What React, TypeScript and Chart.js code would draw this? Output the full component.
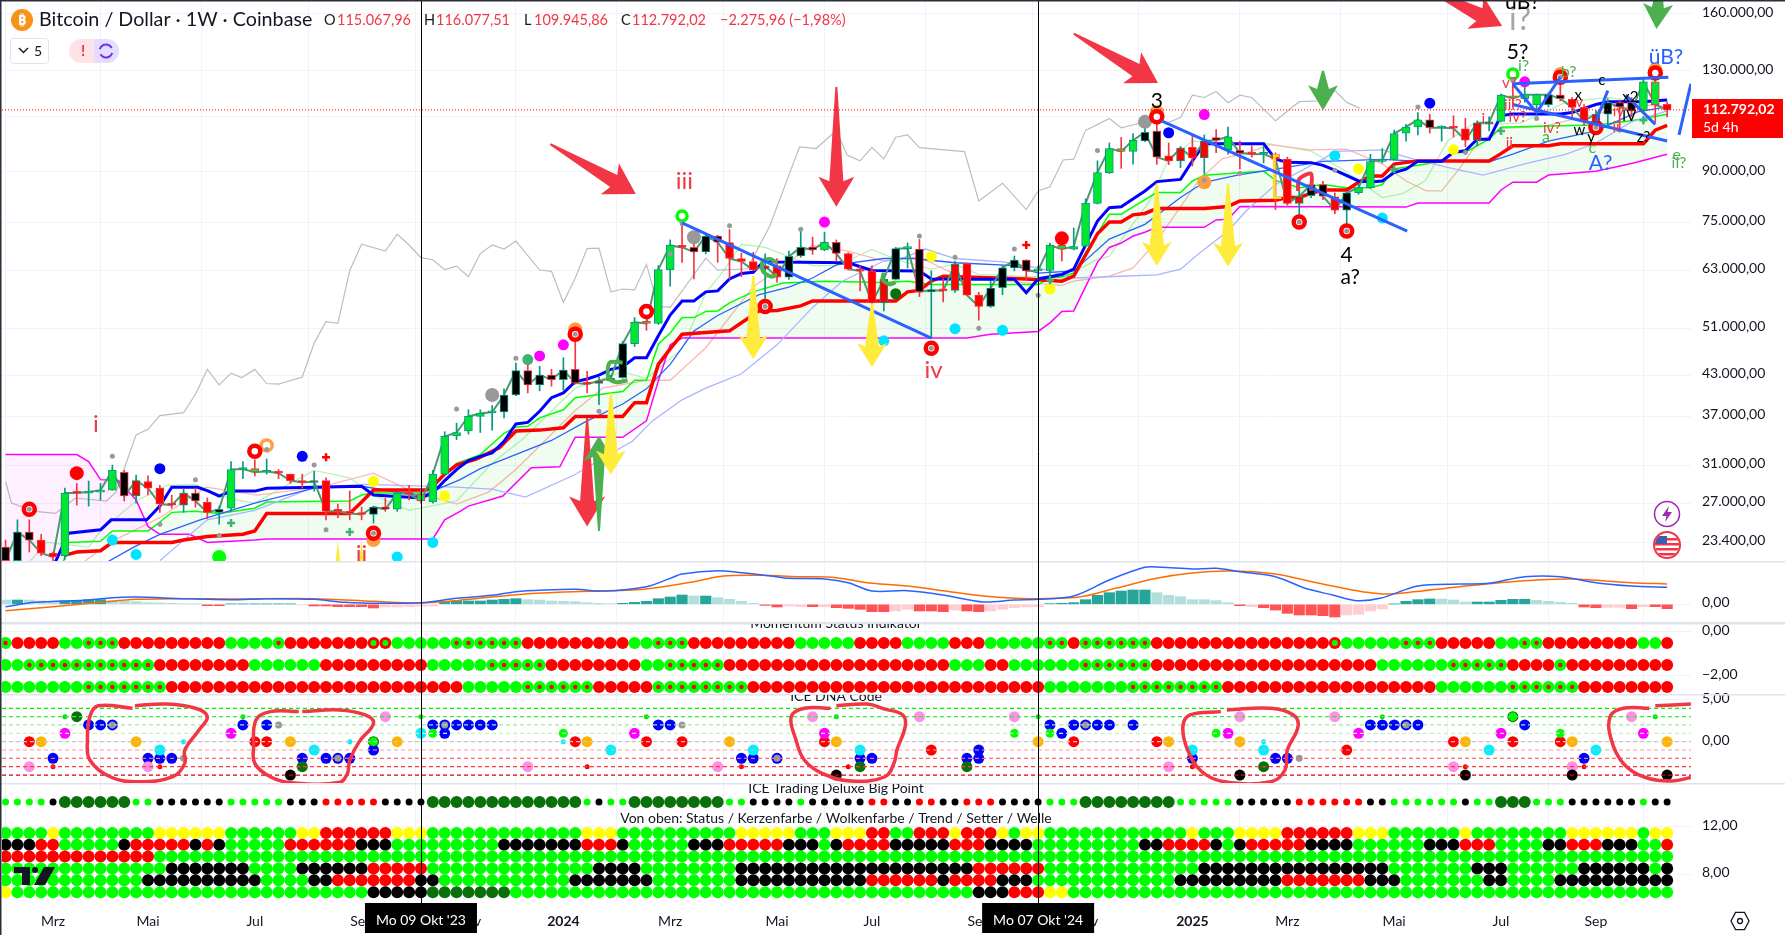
import React, { useEffect, useRef } from "react";
import { Chart, registerables } from "chart.js";
Chart.register(...registerables);

const FONT = "Lato, 'Noto Sans', sans-serif";

// ---------- price data (thousand USD), weekly bars from Mo 06 Feb '23 ----------
const opens = [23.0,21.9,24.3,23.6,22.5,22.3,28.05,28.0,28.1,28.3,30.2,27.7,29.2,28.5,27.0,26.8,28.0,27.1,26.1,26.5,30.5,30.6,30.2,30.3,30.0,29.3,29.1,29.3,26.3,26.2,26.0,25.9,26.6,26.4,28.0,27.9,27.1,30.0,34.5,35.1,37.0,37.5,37.6,40.0,43.7,41.5,43.0,42.3,43.9,41.8,41.7,42.1,42.6,48.2,52.1,51.9,63.1,68.9,68.4,67.3,71.3,69.6,65.7,65.0,63.2,64.0,61.4,66.3,68.5,67.8,69.7,66.9,63.2,62.8,55.9,60.9,68.1,68.0,58.2,58.5,58.5,64.5,57.5,55.2,59.1,63.5,65.3,62.8,62.9,68.9,68.0,68.7,80.3,89.8,98.0,97.0,100.8,104.4,95.4,93.7,98.4,94.7,102.0,97.5,97.4,96.4,96.0,96.0,94.3,80.3,82.6,86.0,82.2,78.3,83.5,85.0,93.5,94.2,103.6,106.0,108.8,105.6,105.8,105.3,101.0,107.2,108.2,118.7,117.5,114.8,115.0,119.0,117.2,113.8,108.5,111.0,115.8,116.0,112.4,124.9,115.068];
const highs = [23.6,25.4,25.4,24.1,22.6,28.5,29.0,29.25,29.0,31.0,30.4,29.9,29.8,28.8,27.8,28.4,28.5,27.5,26.7,31.4,31.4,31.6,31.7,30.5,30.0,30.0,30.3,29.6,26.9,28.2,26.6,26.7,27.5,28.1,28.8,28.4,30.4,35.0,36.1,37.9,37.9,38.5,40.9,44.9,44.7,44.4,43.9,45.8,49.9,43.6,42.7,43.0,48.6,53.0,53.0,64.0,70.3,74.5,69.9,72.0,71.5,73.0,67.0,67.2,66.8,65.7,67.5,73.4,71.0,72.3,70.3,67.1,64.0,64.0,62.0,68.4,69.5,70.4,62.8,61.0,65.1,64.6,58.1,60.5,64.0,66.3,65.4,64.0,69.5,71.0,73.4,81.6,93.7,100.0,102.0,103.5,107.0,108.0,100.0,98.7,103.0,103.0,105.0,106.0,100.7,99.0,98.7,96.5,95.0,84.0,87.0,87.0,83.4,83.6,86.0,96.0,98.0,104.8,107.0,111.7,111.0,106.5,110.4,109.4,108.4,110.0,119.5,125.3,124.5,119.5,119.6,127.0,118.0,115.0,112.5,117.5,116.5,118.0,126.0,133.0,116.078];
const lows = [21.5,21.7,22.6,22.3,21.9,22.0,26.8,26.7,27.3,28.3,27.2,27.0,27.8,26.1,26.5,26.1,26.6,25.5,25.0,26.2,29.5,29.8,30.0,29.5,29.0,28.5,28.2,25.4,25.6,25.4,25.4,25.1,26.2,26.2,27.3,27.0,27.0,29.9,34.0,34.7,34.9,35.2,36.8,39.9,40.3,40.6,41.3,40.7,41.6,40.3,38.6,42.0,42.5,47.7,50.6,51.7,59.4,64.8,61.0,66.8,64.8,61.0,61.5,62.9,56.7,60.3,60.9,66.0,66.7,67.6,65.0,63.0,58.4,53.5,54.3,60.8,63.5,57.2,49.1,56.1,58.1,57.4,52.5,55.0,57.6,62.8,60.9,60.7,60.9,65.1,67.8,68.5,80.1,89.5,91.2,92.6,100.5,92.5,92.4,91.4,92.0,89.3,96.5,96.0,91.0,95.0,93.0,78.5,79.8,76.5,82.0,81.4,77.3,74.0,83.0,84.8,93.0,94.0,100.7,103.0,103.7,100.7,102.2,98.7,99.0,104.5,108.0,114.0,116.0,112.4,114.0,116.5,109.5,106.5,106.5,106.0,104.0,110.0,112.0,108.0,109.946];
const closes = [21.9,24.3,23.6,22.5,22.2,28.0,28.0,28.1,28.3,30.4,27.7,29.3,28.5,26.9,26.8,28.0,27.2,26.1,26.4,30.5,30.55,30.2,30.3,30.1,29.3,29.1,29.2,26.2,26.2,26.0,25.9,26.6,26.4,28.0,27.9,27.2,30.0,34.4,34.9,37.0,37.4,37.6,40.0,43.7,41.5,43.0,42.3,43.8,41.8,41.6,42.1,42.5,48.2,52.1,51.9,63.1,68.9,68.4,67.3,71.3,69.7,65.7,65.0,63.0,64.0,61.4,66.2,68.4,67.8,69.7,66.9,63.2,62.8,55.9,60.9,68.1,68.2,58.2,58.6,58.4,64.4,57.5,55.2,59.0,63.5,65.3,62.8,62.9,68.9,68.0,68.6,80.3,89.8,98.0,97.0,101.0,104.0,95.0,93.7,98.2,94.7,100.7,101.0,102.3,96.4,96.0,96.1,94.3,80.3,82.4,86.0,82.4,78.3,83.4,85.0,93.5,94.0,103.5,106.0,108.8,105.7,105.7,105.5,101.0,107.6,107.7,119.0,117.7,119.2,119.2,119.2,117.5,113.8,108.5,111.0,115.8,114.0,112.4,124.9,115.0,112.792];
const bodyTones = "kkkrrgrggg" + "krrrrrkrkg" + "gggrrrrrrr" + "rkkgrggggg" + "ggkkkkkkkr" + "rrkggggrkk" + "krrrrrkkkg" + "krrrrkgkkr" + "rrrkkkkggg" + "ggggggkkrr" + "rrkgkrgrrr" + "kkrkgggggg" + "kgrrrrgggg" + "kkrrrkkkgg" + "r";

const priceTicks = [160, 130, 110, 90, 75, 63, 51, 43, 37, 31, 27, 23.4];
const lastPrice = 112.792;
const monthTicks = [4, 12, 21, 30, 39, 47, 56, 65, 73, 82, 91, 100, 108, 117, 126, 134];
const monthLabels = ["Mrz", "Mai", "Jul", "Sep", "Nov", "2024", "Mrz", "Mai", "Jul", "Sep", "Nov", "2025", "Mrz", "Mai", "Jul", "Sep"];
const yearTicks = [47, 100];
const dateMarks: [number, string][] = [[35, "Mo 09 Okt '23"], [87, "Mo 07 Okt '24"]];

// ---------- indicator lines: [bar, price] ----------
type P = [number, number];
const thickBlue: P[] = [[4.2,21.8],[5.3,24.2],[8,24.5],[8.9,25.4],[11.9,25.4],[13,26.7],[14,28.6],[16.2,28.6],[17.1,28.2],[18,27.7],[19,28.2],[21,28.2],[22,28.5],[30,28.7],[31,27.8],[35,27.5],[36,28.0],[37,29.3],[38,30.5],[39,31.5],[40,32],[41,32.4],[42,33.8],[43,36],[44,36.2],[45,37.7],[46,39.6],[47,40.3],[48,42],[49,42.4],[50,43],[51,43.9],[52,44.3],[53,45.8],[54,45.8],[55,49.6],[56,53.5],[57,56.3],[58,56.3],[59,58.2],[60,58.4],[61,61],[62,62.2],[63,62.5],[64,65.4],[65,64.9],[71,64.7],[73,62.9],[77,62.8],[78,61],[82,60.9],[85,60.9],[86,58],[87,61],[89,62],[90,63.2],[92,75.3],[93,79],[94,79.3],[96,84],[97,86.9],[99,87.6],[100,93.7],[101,99.7],[106,99.7],[107,94.3],[108,93.2],[110,93.1],[111,92.2],[112,90.6],[114,87.1],[115,86.8],[116,87.1],[117,89.8],[118,90.9],[119,93.6],[121,93.6],[122,96.7],[123,97.2],[124,101.4],[125,101.4],[126,110.5],[127,111.1],[131,111.1],[132,111.7],[134,115],[135,116.2],[138,116.2],[139,116.6],[140,116.9]];
const thickRed: P[] = [[4.9,22.3],[6,22.6],[8,22.7],[9,23.4],[14,23.4],[15,23.6],[17,23.9],[20,24.1],[21,24.4],[22,26],[29,26],[30,27.1],[31,28.3],[35.5,28.3],[36,28.7],[37,30],[38,31],[39.7,31.7],[41.6,33],[43,35.1],[45,35.2],[47,35.5],[48,37],[52,37],[53,38.9],[54,38.9],[55,44.7],[56,47.3],[57,49.9],[61,50.5],[62,52],[63.5,54.3],[65,54.4],[67,55.3],[68,56.3],[75,56.3],[76,58.2],[77,58.5],[78,60.5],[79,61.6],[86,61],[89,60.5],[90,61.6],[92,71.9],[93,75],[94,75],[95,77],[96,77.4],[97,78.8],[101,78.8],[103,79.4],[104,81],[107,81.2],[108,82],[109,82],[110,83.3],[111,84.3],[113,84.3],[114,86.7],[115,88.7],[116,88.7],[117,92.6],[119,93.7],[125,93.7],[126,96.2],[127,99],[130,99],[131,99.7],[138,99.7],[139,104.8],[140,106.6]];
const limeLine: P[] = [[0,19],[4.2,19.5],[5.3,23.4],[8,23.5],[9,24.4],[12,24.4],[13,25.2],[14,26.1],[16,26.2],[18,26],[21,26.5],[22,27.1],[29,27.2],[30,27.8],[31,28],[35,28],[36,28.6],[37,30],[38,31.2],[40,32.2],[42,34.8],[43,35.6],[44,35.7],[45,36.8],[47,37.9],[48,39.6],[51,40.3],[52,40.5],[53,42.2],[54,42.2],[55,48.1],[56,50.1],[57,53],[58,53],[59,54.2],[60,54.3],[61,55.9],[63,58.2],[65.5,60.1],[69,60.5],[74,60.2],[76,60.5],[78,59.8],[87,59.8],[88,61.2],[89,61.5],[90,62.3],[92,72],[93,77.2],[94,77.2],[95,79.3],[97,83.5],[99,83.5],[100,87.1],[101,88.9],[106,90.3],[107,87.3],[109,85],[111,86],[113,85],[115,85],[116,86],[117,91],[121,93.5],[122,96.5],[123,96.7],[125,101.4],[126,105.9],[129,106.3],[134,106.8],[137,108.4],[140,111]];
const thinBlue: P[] = [[8.6,21.8],[10.8,23],[13,24.1],[16.4,25.4],[21,27],[26,28.5],[30,28.7],[35,27.7],[38.3,29.4],[40,30.6],[46,33.9],[49,36.4],[52,38.7],[54,40.9],[56,44.7],[58,50.5],[60,53.4],[63.5,57.6],[66,59.2],[68,61.2],[70,64.2],[74,65.7],[76.5,65.7],[80,64.7],[85,64],[87,62.3],[90,62.8],[93,70.5],[96,74.4],[99,82],[101,86.7],[104,89.1],[106,90.3],[111,93.5],[116,94.2],[118.5,93.7],[121.5,93.7],[125,93.4],[127,96],[130,100.7],[134,104.5],[137.5,112],[140,114]];
const lavender: P[] = [[13,21.9],[17,25.4],[21,26.3],[26,28.6],[30.5,28.9],[38,28.6],[41,28.4],[43.8,27.6],[47.9,29.9],[52.8,33.8],[54.5,36.4],[57,39.3],[59,41],[62,43.2],[65,48],[68,55],[70.5,60.5],[74,65.1],[75.5,65.7],[77.5,68],[80,65.7],[84,64.9],[87,63.5],[90,61.2],[94,61.6],[97,61.9],[99,63.2],[100.5,66.8],[103,72.6],[104.5,78],[107,86],[111,94.3],[112,97],[116,97.5],[118.5,94.5],[121.5,91.5],[124.5,89],[128,92.7],[131.5,96],[134,100],[137,108],[140,112.4]];
const magentaLine: P[] = [[0,32.2],[6,32.2],[7,31.4],[8,29.4],[9.5,29.3],[11,27.3],[12,24.8],[13,24.1],[15.5,24.1],[17,23.4],[21,23.6],[22,23.7],[36,23.7],[37,25.4],[38.3,26.2],[39,26.7],[41.9,27.7],[44.3,30.7],[46.7,30.8],[48,34.3],[52,34.3],[54,36.4],[55,42.1],[56,48],[57,49.2],[81,49.2],[83,49.9],[87,50.4],[88,52],[89,54.2],[90,54.3],[92,64.8],[93,68.4],[94,69.5],[95,71.3],[96,72.3],[97,73.6],[101,73.6],[102,75.6],[103,75.8],[104,79.4],[118,79.2],[119,80.4],[125,80.4],[126,84.3],[127,86.7],[129,86.7],[130,89],[134,90.2],[137,92.8],[140,96]];
const lightGreen: P[] = [[2,21.8],[3.5,23.4],[7,23],[8,24.4],[11,27.2],[13.6,28.8],[15.9,28.9],[19,27.4],[21,27],[24,29],[26,30.4],[29,29.6],[31,27.8],[34,26.3],[38,27.2],[41,31.2],[43.5,34],[48,41],[52,43.5],[54,42.5],[57,47.3],[59,58],[60.5,62.8],[62,69.2],[64,68.4],[68,64],[70,64],[73,67.9],[75,65.5],[78,63.2],[80,64.3],[82,62],[89,61.2],[92,65.5],[93,66.2],[96.4,81],[98,94.4],[100,100.7],[104.8,99.4],[106,100],[110,97.1],[113,90],[116,82],[117.7,83.2],[119.6,87.1],[121.5,100.7],[123.5,106.8],[127.6,107.5],[131.5,116],[135,118],[140,114]];
const lightRed: P[] = [[6.6,21.8],[8.8,23.4],[13,25.6],[16.9,28.6],[21.2,27.8],[26.5,28.6],[31,30.1],[34,28.3],[38,26.9],[40.7,28.1],[43,30.5],[48,37.8],[50.3,41],[54,42.2],[56,42.2],[59,47.5],[63,59.3],[68,68.9],[71,67.5],[74,65.1],[77,66],[80,62],[82,60.9],[89,59.6],[90,60.5],[93,61.6],[95,63.5],[97,70],[100.5,87.1],[102.5,94.4],[105,97.1],[106.5,99.4],[110,97.5],[113,97.8],[116,92.7],[118,87.1],[119.7,84],[121,84],[122.5,91.1],[124,99.9],[126,105.5],[129.5,106.1],[132.3,109.3],[137.5,115],[140,114]];
const grayLine: P[] = [[0,29.2],[0.5,27],[2.5,26.2],[4.2,26],[5.9,27.5],[8.5,27.2],[9.3,28.1],[11,34.6],[12,35.3],[13,37.1],[15,37.5],[16,40.1],[17,43.9],[18,41.5],[19,43.3],[19.9,42.6],[21,43.9],[22,41.7],[23,41.6],[25,42.7],[26,48.3],[27,52.2],[28,51.9],[29,62.9],[30,69.2],[32,67.5],[33,71.8],[34,69],[35,65.9],[36,65.4],[37,63.1],[38,63.9],[39,61.5],[40,66.9],[41,69],[42,68],[43,70],[45,63],[46,62.7],[47,56],[48,61.2],[49,68.1],[50,68.2],[51,58.2],[52,58.8],[53,58.6],[54,64.3],[55,55.2],[56,55],[59,65.8],[60,63],[62.5,63.3],[64.4,74],[66.9,98.6],[68.3,98],[70,104.7],[70.9,95.7],[72,93.7],[73,98.4],[74,94.4],[75,102.1],[76,103],[77,98.3],[80.8,96.9],[82,81],[84,86.4],[86,78.5],[87,84],[88,85.3],[89.1,94],[90,94.3],[91,104.7],[93,109.3],[94,105.7],[96,108],[98,107.8],[99,109.7],[100,119],[101,118],[102,120.6],[103,115.8],[104,119],[105,118],[107,108.4],[109,116.2],[111,116.6],[112,121],[113,115.9],[114.1,113.5]];

// drawn trend lines and hand-drawn hooks
const trendLines: P[][] = [[[57,74.8],[78,49.2]],[[97.4,108.4],[118.1,72.6]],[[127,124],[140.1,127]],[[127,115],[140,100.7]],[[142,124],[141,103]],[[127,124],[129,111.7],[131,127]],[[135,121],[134,108.2]],[[136.5,119],[139,107]]];
const greenHooks: P[][] = [[[52,45],[50.9,45],[50.8,42.5],[51.5,41.9],[52.4,42.2]],[[65,64.7],[64.4,65.6],[63.8,65],[63.8,62.8],[64.5,61.5],[65,62]],[[74,62.4],[73.9,60.8],[74.5,59.8],[75,60.3]]];
const redHook: P[] = [[108.9,84],[109,87.7],[110,89.4],[110,84]];
const yellowHook: P[] = [[107.3,95.5],[106.9,95.5],[106.9,82],[107.5,82]];

// ---------- markers on the price pane ----------
const grayDots: P[] = [[2,26.4],[9,32],[16,29.4],[13,25],[18,24],[22,32.8],[26,31],[27,24.5],[31,24.2],[38,38],[43,45.7],[50,37.7],[56,66.8],[57,74.6],[61,74],[67,73.1],[64,55.2],[48,49.9],[77,71.3],[80,66],[82,51],[85,68],[87,57.5],[92,97.3],[104,89.5],[101,87.3],[112,90.6],[119,114],[123,96.6],[129,109.3],[127,125.5],[131,127],[134,105.9],[78,47.4],[109,75],[113,72.6]];
const bigGray: P[] = [[41,40],[58,71],[96,108]];
const orangeSolid: P[] = [[31,23.6],[48,50.8],[97,112],[101,86.7],[131,128.5],[139,130.5]];
const orangeRings: P[] = [[22,33.3]];
const redRings: P[] = [[2,26.4],[21,32.6],[31,24.2],[48,49.9],[54,54.2],[64,55.2],[78,47.4],[97,110],[109,75],[113,72.6],[131,127],[134,105.8],[139,129]];
const redSolid: P[] = [[6,30.1],[89,70.7]];
const greenRings: P[] = [[57,76.7],[127,128.5]];
const blueDots: P[] = [[13,30.6],[25,32],[98,103.8],[120,115.6]];
const cyanDots: P[] = [[9,23.6],[11,22.4],[33,22.2],[36,23.4],[74,48.7],[80,50.9],[84,50.6],[112,95.5],[116,76.1]];
const yellowDots: P[] = [[31,29.2],[37,27.7],[78,66.2],[88,58.8],[114,91],[122,97.6]];
const magentaDots: P[] = [[45,46.1],[47,48],[69,75],[101,110.9],[128,124.9]];
const seaDots: P[] = [[44,45.5]];
const darkDots: P[] = [[75,57.8]];
const limeDots: P[] = [[18,22.2]];
const redPlus: P[] = [[27,31.9],[86,69]];
const greenPlus: P[] = [[19,25.1],[29,24.3],[88,60.7],[117,90.9],[126,104.5],[138,108.6]];

// large drawn arrows: [barFrom, priceFrom, barTip, priceTip]
type A = [number, number, number, number];
const redArrows: A[] = [[45.9,99.6,53.1,83.1],[70,122.6,70,79.3],[90,148.8,97.1,124.4],[119.2,177.6,126.1,153],[49,36.8,49,24.8]];
const greenArrows: A[] = [[50,24.4,50,34.5],[111,130,111,112.6],[139.4,184,139.1,151.4]];
const yellowArrows: A[] = [[63,61.7,63,45.6],[51,40.3,51,29.95],[73,55.8,73,44.3],[97,86.3,97,64],[103,86.3,103,63.8]];
const yellowSpikes: A[] = [[28,19.5,28,23.55],[30,19.5,30,23.55]];

// wave labels: [bar, price, text]
type L = [number, number, string];
const redLarge: L[] = [[7.6,35.9,"i"],[30,22.4,"ii"],[57.2,87.1,"iii"],[78.2,43.7,"iv"]];
const blackLarge: L[] = [[97,116.5,"3"],[113,66.4,"4"],[113.3,61.4,"a?"],[127.8,167,"üB?"],[127.4,138.9,"5?"]];
const grayHuge: L[] = [[127.6,156.4,"i?"]];
const blueLarge: L[] = [[139.9,136.6,"üB?"],[134.4,92.9,"A?"]];
const greenMid: L[] = [[141,92.9,"ii?"],[140.8,95.8,"e"],[131.7,129.5,"b?"],[129.8,102.4,"a"],[127.9,132.3,"i?"],[133.7,98.4,"c"]];
const redSmall: L[] = [[126.7,124.5,"v?"],[127,114.8,"iii?"],[127.4,110,"iv?"],[126.7,100.1,"ii"],[130.3,105.5,"iv?"],[124.5,109,"i"],[135.9,112.4,"iv"],[135.7,105.8,"ii"],[132.6,115.9,"v"]];
const blackSmall: L[] = [[134.5,125.8,"c"],[132.5,119,"x"],[136.9,118,"x2"],[136.8,110.3,"IV"],[132.6,104.6,"w"],[133.6,102.1,"y"],[138,102,"z?"]];

// ---------- MACD pane ----------
const macdHist = [13,13,13,10,9,10,12,14,14,11,9,8,5,4,3,2,1,-4,-4,1,1,1,1,1,1,-1,-5,-5,-7,-7,-7,-11,-8,-8,-7,-6,-5,8,10,10,10,13,15,17,14,13,10,9,8,5,3,2,3,6,9,17,22,28,25,25,20,15,9,3,-3,-8,-5,-7,-7,-7,-10,-12,-15,-22,-22,-20,-15,-20,-20,-22,-17,-20,-22,-20,-15,-10,-8,-7,2,3,5,14,27,35,40,43,43,35,27,23,14,14,11,5,-4,-7,-10,-17,-27,-32,-32,-34,-38,-32,-30,-20,-14,1,9,14,16,16,13,7,7,7,12,15,15,12,9,6,3,-8,-10,-9,-9,-13,-7,-7,-13];
const macdTones = "u1U1u3U4u8D2U6d1D6d5U7u8U6u1U1u4D2d2D1d1D5d1d1D3d1D2d5U9u7D1d1D7d4U4u3U5u4D2d2D1d1D2";
const macdLine: P[] = [[0,-7],[2.5,6],[7,13],[9,20],[11,22],[15,17],[19,14],[22,17],[26,15],[28.6,6],[31.5,3],[35,5],[38,18],[41,27],[43,38],[45.5,43],[48,45],[50.5,40],[54,53],[56,78],[57,91],[60,101],[62,95],[64.5,85],[66,78],[69,76],[71,65],[73,40],[76,41],[79,28],[82.4,7],[85,13],[87,15],[90,25],[93,73],[96,111],[97.4,111],[100,106],[102,108],[104,98],[107,83],[109.5,48],[111.8,28],[113.8,11],[115.8,18],[119,55],[122.5,61],[125,63],[128,83],[131,83],[134,65],[137,55],[140,51]];
const signalLine: P[] = [[0,-19],[4,-7],[8,6],[11,15],[15,17],[19,16],[26,17],[31,9],[35,4],[38,11],[43,29],[47,37],[51,41],[54,46],[58,68],[60.5,85],[63.5,87],[67,83],[70,80],[73,63],[76,55],[79,41],[82.4,25],[85,18],[87,17],[90.6,23],[93.5,48],[97,78],[99.8,93],[103,100],[107,91],[110.7,63],[114.7,36],[116.7,31],[122.5,53],[128,71],[132,76],[137,65],[140,61]];

// ---------- status dot rows (run-length: colour code + count per bar) ----------
const momentumRow1 = "x1r4g2x3r9g4x1r7y2g5x6r9g2x3r9g5r4g4r3g5x2r1x6r15y1g5x3r5g2x2r8g2r1";
const momentumRow2 = "g2x11r8g6r9g5x5r8g2x5r15r4g3r2g6x6r19g6x5r4x1r9";
const momentumRow3 = "g7x7r25g5x6r5x8r13r12g7x8r18g6x6r8";
const bigPointRow = "g4k1D6g2k6g5k3r5k4D13g1k1g2D8g2k4g1k5r2k1k1r2k2r3k4g3D8g5k5r6k2g6k1g2D3g3k6g1k2";
const statusRows = [
  "g4y1g8y6g6y2r6y3g13y3g10y5g3y3r2g1g1r3y1r3y1g1y2g12y1g3y4r6y3g6y1g8y6g1y2",
  "k3r2g5k1r5k1r1k1g5r6k3g9k7r3k1g5k3r5k3g1k1r4k1k4r3k4g9k2r4k1g1k1r5k4g6k3r3g4k2r3k3g2r1",
  "r13g128",
  "g14k7g4k6r5g14k4g8k14k6r6g13k16g7k3g6k6g1k1",
  "g12k10g4k2r7k2g11k7g7k11r3r3k1r4k3g12k9r7k3g7k2g4k10",
  "y1g30k5D7g33g6k3r3y2g51",
];
const momentumLevels = [-0.5, -1.5, -2.5];
const bigPointLevel = 14.1;
const statusLevels = [11.5, 10.5, 9.5, 8.5, 7.5, 6.5];

// ---------- ICE DNA code dots: [bar, level] ----------
const dnaBlue: P[] = [[4,-2],[7,2],[8,2],[9,2],[12,-2],[13,-2],[14,-2],[20,2],[22,2],[25,-2],[27,-2],[28,-2],[29,-2],[31,-1],[36,2],[37,2],[37,1],[38,2],[39,2],[40,2],[41,2],[55,2],[56,2],[62,-2],[63,-2],[65,-2],[72,-2],[73,-2],[81,-2],[82,-1],[82,-2],[88,2],[89,1],[90,2],[91,2],[92,2],[93,2],[95,2],[100,-2],[107,-2],[108,-2],[115,2],[116,2],[117,2],[118,2],[119,2],[128,2],[133,-2]];
const dnaGrayCore: P[] = [[9,2],[37,2],[28,-2],[65,-2],[91,2],[118,2]];
const dnaRed: P[] = [[2,0],[21,0],[22,0],[48,0],[54,0],[57,0],[69,0],[78,-1],[90,0],[97,0],[113,-1],[122,0],[127,0],[131,0]];
const dnaOrange: P[] = [[3,0],[11,0],[24,0],[33,0],[49,0],[61,0],[70,0],[87,0],[98,0],[104,0],[123,0],[132,0],[140,0]];
const dnaPink: P[] = [[2,-3],[12,-3],[32,3],[44,-3],[60,-3],[68,3],[77,3],[85,3],[98,-3],[104,3],[112,3],[122,-3],[132,-3],[137,3]];
const dnaMagenta: P[] = [[5,1],[19,1],[53,1],[69,1],[103,1],[114,1],[126,1],[138,1]];
const dnaLime: P[] = [[31,0],[36,1],[47,1],[85,1],[88,1],[102,1],[131,1],[127,3]];
const dnaCyan: P[] = [[13,-1],[26,-1],[35,1],[51,-1],[63,-1],[72,-1],[100,-1],[106,-1],[125,-1],[134,-1]];
const dnaDarkGreen: P[] = [[6,3],[25,-3],[72,-3],[81,-3],[106,-3]];
const dnaDarkRing: P[] = [[31,0],[127,3]];
const dnaBlack: P[] = [[24,-4],[70,-4],[104,-4],[123,-4],[132,-4],[140,-4]];
const dnaRedSmall: P[] = [[4,-3],[13,-3],[49,-3],[62,-3],[71,-3],[100,-3],[123,-3],[133,-3]];
const dnaLimeSmall: P[] = [[5,3],[20,3],[35,3],[54,3],[70,3],[87,3],[116,3],[139,3]];
const dnaCyanSmall: P[] = [[15,0],[29,0],[47,0],[106,0]];
const dnaGraySmall: P[] = [[15,-2],[23,2],[57,2],[109,-2]];
const dnaLevels = [4, 3, 2, 1, 0, -1, -2, -3, -4];

// hand-drawn red circles in the DNA pane: [bar, level]
const dnaScribbles: P[][] = [
  [[10.7,4],[7.8,4.3],[7.1,3],[6.9,0.2],[7.1,-2.2],[8.8,-4.2],[11.2,-4.8],[14.1,-4.2],[15.1,-2.6],[15.1,-1],[16.3,1.4],[17,3],[16,4],[13.6,4.5],[10.9,4.3]],
  [[24.7,3.6],[22.3,3.6],[21.1,2.6],[20.9,-0.6],[21,-2.6],[22.3,-4.2],[24,-4.9],[28.1,-4.9],[28.8,-3.8],[29,-2.2],[29.8,0],[31,2.2],[30.3,3.2],[28.1,3.8],[25,3.6]],
  [[69.5,4],[67.3,4],[66.2,3],[66.6,0.2],[67.3,-2.2],[68.8,-3.8],[71.2,-4.7],[74.1,-4.2],[74.9,-2.4],[75.1,-1],[75.8,1.8],[75.6,3.2],[74.1,3.9],[72.6,4.5],[70,4.3]],
  [[102.4,3.6],[99.8,3.2],[99.2,1.8],[99.6,-1],[100.8,-3.6],[102.7,-4.8],[106.6,-4.8],[107.8,-3.4],[108,-1],[108.9,1.8],[108.5,3.2],[106.6,4],[102.9,3.8]],
  [[138.5,4],[136.3,4],[135.2,3],[135.3,0.2],[136.3,-2.6],[138,-4.2],[140.4,-4.7],[142,-4.3]],
  [[139,4.3],[142,4.5]],
];

// ---------- helpers ----------
const X_MIN = -0.3, X_MAX = 142.01;
const expand = (rle: string): string => {
  let out = "";
  for (const m of rle.matchAll(/([a-zA-Z])(\d+)/g)) out += m[1].repeat(Number(m[2]));
  return out;
};
const RED = "#f23645", TEAL = "#089981", TV_BLUE = "#2962ff";
const bodyColor: Record<string, string> = { g: "#00e632", r: "#ff0000", k: "#000000" };
const dotColor: Record<string, string> = { g: "#00ff00", r: "#ff0000", k: "#000000", y: "#ffff00", D: "#0a700a", x: "#00ff00" };
const histColor: Record<string, string> = { U: "#26a69a", u: "#b2dfdb", D: "#ff5252", d: "#ffcdd2" };
const deNum = (v: number) => v.toLocaleString("de-DE", { minimumFractionDigits: 2, maximumFractionDigits: 2 }).replace("-", "\u2212");
const xy = (a: P[]) => a.map(([x, y]) => ({ x, y }));

function App() {
  const ref = useRef<HTMLCanvasElement | null>(null);
  useEffect(() => {
    const ds: any[] = [];
    const line = (data: P[], yAxisID: string, color: string, width: number, extra: any = {}) => {
      ds.push({ type: "line", data: xy(data), xAxisID: "x", yAxisID, borderColor: color, borderWidth: width, pointRadius: 0, tension: 0, fill: false, ...extra });
      return ds.length - 1;
    };
    const marks = (data: P[], yAxisID: string, color: string, r: number, extra: any = {}) => {
      ds.push({ type: "line", data: xy(data), xAxisID: "x", yAxisID, showLine: false, pointRadius: r, pointBackgroundColor: color, pointBorderWidth: 0, pointBorderColor: color, ...extra });
    };
    const ring = (data: P[], yAxisID: string, color: string, r: number, width: number) =>
      marks(data, yAxisID, "#ffffff", r, { pointBorderColor: color, pointBorderWidth: width });
    const row = (codes: string, level: number, yAxisID: string, radius: (c: string) => number, colors: Record<string, string>) => {
      const chars = [...codes];
      ds.push({
        type: "line", data: chars.map((_, i) => ({ x: i, y: level })), xAxisID: "x", yAxisID, showLine: false,
        pointRadius: chars.map(radius), pointBackgroundColor: chars.map((c) => colors[c]), pointBorderWidth: 0,
      });
    };

    // price pane — cloud and lines first, candles above them
    line(lightGreen, "price", "#b6f2b6", 1.3);
    line(lightRed, "price", "#f9b9b2", 1.3);
    line(grayLine, "price", "#bdbdbd", 1.2);
    const limeIdx = line(limeLine, "price", "#00ff00", 1.5);
    const magIdx = line(magentaLine, "price", "#ff00ff", 1.5);
    ds[limeIdx].fill = { target: magIdx, above: "rgba(0,200,0,0.06)", below: "rgba(255,0,255,0.06)" };
    line(lavender, "price", "#aab4ff", 1.3);
    line(thinBlue, "price", TV_BLUE, 1.3);
    line(thickRed, "price", "#ff0000", 3.5);
    line(thickBlue, "price", "#0000ff", 3);
    line(closes.map((c, i) => [i, c] as P), "price", "#4b9a6c", 2);
    const isUp = closes.map((c, i) => c >= opens[i]);
    ds.push({
      type: "bar", xAxisID: "x", yAxisID: "price", grouped: false, maxBarThickness: 1, barPercentage: 1, categoryPercentage: 1,
      data: lows.map((l, i) => ({ x: i, y: [l, highs[i]] })),
      backgroundColor: isUp.map((u) => (u ? TEAL : RED)),
    });
    ds.push({
      type: "bar", xAxisID: "x", yAxisID: "price", grouped: false, maxBarThickness: 8, barPercentage: 1, categoryPercentage: 1,
      minBarLength: 2, borderWidth: 1, borderSkipped: false,
      data: opens.map((o, i) => ({ x: i, y: [o, closes[i]] })),
      backgroundColor: [...bodyTones].map((t) => bodyColor[t]),
      borderColor: isUp.map((u) => (u ? TEAL : RED)),
    });
    greenHooks.forEach((h) => line(h, "price", "#4caf50", 4, { tension: 0.3 }));
    line(redHook, "price", RED, 4, { tension: 0.3 });
    line(yellowHook, "price", "#fdd835", 3);
    marks(orangeSolid, "price", "#ff9f40", 7);
    ring(orangeRings, "price", "#ff9f40", 5.5, 3.5);
    marks(bigGray, "price", "#999999", 7);
    ring(redRings, "price", "#ff0000", 5.5, 4.5);
    ring(greenRings, "price", "#00ff00", 5, 3.5);
    marks(redSolid, "price", "#ff0000", 7);
    marks(blueDots, "price", "#0000ff", 5.5);
    marks(cyanDots, "price", "#00e5ff", 5.5);
    marks(yellowDots, "price", "#ffff00", 5.5);
    marks(magentaDots, "price", "#ff00ff", 5.5);
    marks(seaDots, "price", "#3cb371", 5.5);
    marks(darkDots, "price", "#0a700a", 5.5);
    marks(limeDots, "price", "#00ff00", 7);
    marks(grayDots, "price", "#999999", 2.5);
    marks(redPlus, "price", "#ff0000", 4, { pointStyle: "cross", pointBorderColor: "#ff0000", pointBorderWidth: 2.5 });
    marks(greenPlus, "price", "#3cb371", 4, { pointStyle: "cross", pointBorderColor: "#3cb371", pointBorderWidth: 2.5 });
    trendLines.forEach((t) => line(t, "price", TV_BLUE, 3));

    // MACD pane
    const toneChars = [...expand(macdTones)];
    ds.push({
      type: "bar", xAxisID: "x", yAxisID: "macd", grouped: false, maxBarThickness: 10.5, barPercentage: 1, categoryPercentage: 1,
      data: macdHist.map((v, i) => ({ x: i, y: v })),
      backgroundColor: toneChars.map((t) => histColor[t]),
    });
    line(signalLine, "macd", "#ff6d00", 1.5, { tension: 0.3 });
    line(macdLine, "macd", TV_BLUE, 1.5, { tension: 0.3 });

    // momentum pane
    [momentumRow1, momentumRow2, momentumRow3].forEach((rle, k) => {
      const codes = expand(rle);
      row(codes, momentumLevels[k], "momentum", () => 6, { ...dotColor, x: "#00ff00", y: "#ff0000" });
      const chars = [...codes];
      ds.push({
        type: "line", data: chars.map((_, i) => ({ x: i, y: momentumLevels[k] })), xAxisID: "x", yAxisID: "momentum", showLine: false,
        pointRadius: chars.map((c) => (c === "x" ? 2.2 : c === "y" ? 3 : 0)),
        pointBackgroundColor: chars.map((c) => (c === "x" ? "#ff0000" : "#00ff00")), pointBorderWidth: 0,
      });
    });

    // DNA pane
    marks(dnaDarkRing, "dna", "#0a700a", 5.5);
    marks(dnaBlue, "dna", "#0000ff", 5.5);
    marks(dnaGrayCore, "dna", "#999999", 3.5);
    marks(dnaRed, "dna", "#ff0000", 5.5);
    marks(dnaOrange, "dna", "#ffb400", 5.5);
    marks(dnaPink, "dna", "#ff8fe5", 5.5);
    marks(dnaMagenta, "dna", "#ff00ff", 5.5);
    marks(dnaCyan, "dna", "#00f0ff", 5.5);
    marks(dnaDarkGreen, "dna", "#0a700a", 5.5);
    marks(dnaBlack, "dna", "#000000", 5.5);
    marks(dnaLime, "dna", "#00ff00", 4.5);
    marks(dnaRedSmall, "dna", "#ff0000", 2.5);
    marks(dnaLimeSmall, "dna", "#00e800", 2.5);
    marks(dnaCyanSmall, "dna", "#00f0ff", 2.5);
    marks(dnaGraySmall, "dna", "#999999", 3.5);
    const levelColor = ["#00ee00", "#33ee33", "#99f099", "#c4f4c4", "#c8c8c8", "#ff9a9a", "#ff6a6a", "#ff3a3a", "#e00000"];
    dnaLevels.forEach((lv, k) => line([[X_MIN, lv], [X_MAX, lv]], "dna", levelColor[k], 1.2, { borderDash: [4, 3] }));
    dnaScribbles.forEach((s) => line(s, "dna", RED, 3.5, { tension: 0.4 }));

    // bottom pane
    row(expand(bigPointRow), bigPointLevel, "status", (c) => (c === "D" ? 6 : 3.5), dotColor);
    statusRows.forEach((rle, k) => row(expand(rle), statusLevels[k], "status", () => 6, dotColor));

    // later entries paint on top (Chart.js paints high order first)
    ds.forEach((d, k) => (d.order = ds.length - k));

    const rightAxis = (stackWeight: number, weight: number, min: number, max: number, ticks: number[], extra: any = {}) => ({
      type: "linear", position: "right", stack: "panes", stackWeight, weight, min, max, offset: false,
      grid: { color: "#f0f3fa", drawTicks: false, lineWidth: 1 },
      border: { display: false },
      ticks: {
        padding: 11, autoSkip: false, color: "#131722", labelOffset: -1.5,
        font: { family: FONT, size: 14 }, callback: (v: any) => deNum(Number(v)),
      },
      afterBuildTicks: (s: any) => { s.ticks = ticks.map((value) => ({ value })); },
      afterFit: (s: any) => { s.width = 94; s.paddingTop = 0; s.paddingBottom = 0; },
      ...extra,
    });

    const paneClip = (chart: any, fn: (c: CanvasRenderingContext2D) => void) => {
      const { ctx, scales } = chart;
      ctx.save();
      ctx.beginPath();
      ctx.rect(scales.x.left, scales.price.top, scales.x.right - scales.x.left, scales.price.bottom - scales.price.top);
      ctx.clip();
      fn(ctx);
      ctx.restore();
    };

    const arrow = (chart: any, a: A, color: string, headLen: number, headW: number, neck: number) => {
      const { ctx, scales } = chart;
      const x1 = scales.x.getPixelForValue(a[0]), y1 = scales.price.getPixelForValue(a[1]);
      const x2 = scales.x.getPixelForValue(a[2]), y2 = scales.price.getPixelForValue(a[3]);
      const len = Math.hypot(x2 - x1, y2 - y1) || 1;
      const ux = (x2 - x1) / len, uy = (y2 - y1) / len, nx = -uy, ny = ux;
      const bx = x2 - ux * headLen, by = y2 - uy * headLen;
      const nkx = x2 - ux * headLen * 0.85, nky = y2 - uy * headLen * 0.85;
      ctx.fillStyle = color;
      ctx.beginPath();
      ctx.moveTo(x1 + nx, y1 + ny);
      ctx.lineTo(nkx + (nx * neck) / 2, nky + (ny * neck) / 2);
      ctx.lineTo(bx + (nx * headW) / 2, by + (ny * headW) / 2);
      ctx.lineTo(x2, y2);
      ctx.lineTo(bx - (nx * headW) / 2, by - (ny * headW) / 2);
      ctx.lineTo(nkx - (nx * neck) / 2, nky - (ny * neck) / 2);
      ctx.lineTo(x1 - nx, y1 - ny);
      ctx.closePath();
      ctx.fill();
    };

    const waveText = (chart: any, list: L[], color: string, size: number) => {
      const { ctx, scales } = chart;
      ctx.fillStyle = color;
      ctx.font = `${size}px ${FONT}`;
      ctx.textAlign = "center";
      ctx.textBaseline = "middle";
      list.forEach(([i, p, t]) => ctx.fillText(t, scales.x.getPixelForValue(i), scales.price.getPixelForValue(p)));
    };

    const overlay = {
      id: "overlay",
      // pin the plot and each pane to the screen's exact rows and columns
      afterLayout(chart: any) {
        const s = chart.scales;
        s.x.left = 2; s.x.right = 1691; s.x.width = 1689; s.x.configure();
        const panes: [string, number, number][] = [["price", 0, 561], ["macd", 561, 624], ["momentum", 624, 694], ["dna", 694, 783], ["status", 783, 900]];
        panes.forEach(([id, top, bottom]) => {
          const y = s[id];
          y.top = top; y.bottom = bottom; y.height = bottom - top; y.left = 1691; y.right = 1785; y.width = 94;
          y.configure();
        });
        s.x.top = 900; s.x.bottom = 935; s.x.height = 35;
        const ca = chart.chartArea;
        ca.left = 2; ca.right = 1691; ca.top = 0; ca.bottom = 900; ca.width = 1689; ca.height = 900;
      },
      afterDatasetsDraw(chart: any) {
        paneClip(chart, () => {
          redArrows.forEach((a) => arrow(chart, a, RED, 30, 36, 14));
          greenArrows.forEach((a) => arrow(chart, a, "#4caf50", 25, 30, 12));
          yellowArrows.forEach((a) => arrow(chart, a, "#ffeb3b", 24, 30, 14));
          yellowSpikes.forEach((a) => arrow(chart, a, "#ffeb3b", 70, 16, 6));
          waveText(chart, grayHuge, "#a6a6a6", 32);
          waveText(chart, redLarge, RED, 24);
          waveText(chart, blackLarge, "#000000", 21);
          waveText(chart, blueLarge, TV_BLUE, 21);
          waveText(chart, greenMid, "#4caf50", 16);
          waveText(chart, redSmall, RED, 15);
          waveText(chart, blackSmall, "#000000", 15);
          const { ctx, scales } = chart;
          const y = scales.price.getPixelForValue(lastPrice);
          ctx.strokeStyle = "#ff0000";
          ctx.lineWidth = 1;
          ctx.setLineDash([1, 2]);
          ctx.beginPath();
          ctx.moveTo(scales.x.left, y);
          ctx.lineTo(scales.x.right, y);
          ctx.stroke();
          ctx.setLineDash([]);
        });
      },
      afterDraw(chart: any) {
        const { ctx, scales } = chart;
        const W = chart.width;
        ctx.save();
        // pane separators
        ctx.fillStyle = "#e0e3eb";
        [[561, 1.5], [622, 2.5], [694, 1.5], [783, 1.5]].forEach(([y, h]) => ctx.fillRect(0, y, W, h));
        // crosshair-style date lines and their black date boxes
        dateMarks.forEach(([i]) => {
          const x = Math.round(scales.x.getPixelForValue(i)) + 0.5;
          ctx.strokeStyle = "#000000";
          ctx.lineWidth = 1;
          ctx.beginPath();
          ctx.moveTo(x, 0);
          ctx.lineTo(x, 903);
          ctx.stroke();
        });
        // pane captions, cut off by their pane top as in the screen
        const caption = (t: string, y: number, clipTop: number) => {
          ctx.save();
          ctx.beginPath();
          ctx.rect(0, clipTop, scales.x.right, 300);
          ctx.clip();
          ctx.fillStyle = "#131722";
          ctx.font = `14px ${FONT}`;
          ctx.textAlign = "center";
          ctx.textBaseline = "middle";
          ctx.fillText(t, 836, y);
          ctx.restore();
        };
        caption("Momentum Status Indikator", 623, 624);
        caption("ICE DNA Code", 696, 695);
        caption("ICE Trading Deluxe Big Point", 788, 784);
        caption("Von oben: Status / Kerzenfarbe / Wolkenfarbe / Trend / Setter / Welle", 818, 784);

        dateMarks.forEach(([i, t]) => {
          const x = scales.x.getPixelForValue(i);
          ctx.fillStyle = "#000000";
          ctx.fillRect(x - 56, 903, 112, 30);
          ctx.fillStyle = "#ffffff";
          ctx.font = `14px ${FONT}`;
          ctx.textAlign = "center";
          ctx.textBaseline = "middle";
          ctx.fillText(t, x, 920);
        });

        // price tag
        ctx.fillStyle = "#ff0000";
        ctx.fillRect(1692, 99, 91, 39);
        ctx.fillStyle = "#ffffff";
        ctx.font = `bold 14px ${FONT}`;
        ctx.textAlign = "left";
        ctx.textBaseline = "middle";
        ctx.fillText("112.792,02", 1703, 109);
        ctx.font = `14px ${FONT}`;
        ctx.fillText("5d 4h", 1703, 127);

        // header
        ctx.fillStyle = "#f7931a";
        ctx.beginPath();
        ctx.arc(22, 20, 11, 0, Math.PI * 2);
        ctx.fill();
        ctx.fillStyle = "#ffffff";
        ctx.font = `bold 15px ${FONT}`;
        ctx.textAlign = "center";
        ctx.fillText("₿", 22, 20);
        ctx.textAlign = "left";
        ctx.fillStyle = "#131722";
        ctx.font = `19.7px ${FONT}`;
        ctx.fillText("Bitcoin / Dollar · 1W · Coinbase", 39, 20);
        ctx.font = `14.5px ${FONT}`;
        const ohlc: [number, string, number, string][] = [
          [324, "O", 337, "115.067,96"], [424, "H", 436, "116.077,51"], [524, "L", 534, "109.945,86"], [621, "C", 632, "112.792,02"],
        ];
        ohlc.forEach(([a, k, b, v]) => {
          ctx.fillStyle = "#131722";
          ctx.fillText(k, a, 20);
          ctx.fillStyle = RED;
          ctx.fillText(v, b, 20);
        });
        ctx.fillText("\u22122.275,96 (\u22121,98%)", 720, 20);

        // indicator toggle button
        ctx.strokeStyle = "#e0e3eb";
        ctx.lineWidth = 1;
        ctx.beginPath();
        ctx.roundRect(10.5, 38.5, 38, 25, 3);
        ctx.stroke();
        ctx.strokeStyle = "#131722";
        ctx.lineWidth = 1.4;
        ctx.beginPath();
        ctx.moveTo(19, 48);
        ctx.lineTo(23.5, 52.5);
        ctx.lineTo(28, 48);
        ctx.stroke();
        ctx.fillStyle = "#131722";
        ctx.font = `14px ${FONT}`;
        ctx.fillText("5", 34, 51);

        // alert pill
        ctx.fillStyle = "#fde3e5";
        ctx.beginPath();
        ctx.roundRect(69, 39, 25, 24, [12, 0, 0, 12]);
        ctx.fill();
        ctx.fillStyle = "#e5dcff";
        ctx.beginPath();
        ctx.roundRect(94, 39, 25, 24, [0, 12, 12, 0]);
        ctx.fill();
        ctx.fillStyle = RED;
        ctx.font = `bold 15px ${FONT}`;
        ctx.textAlign = "center";
        ctx.fillText("!", 83, 51);
        ctx.strokeStyle = "#6a35e8";
        ctx.lineWidth = 2;
        ctx.beginPath();
        ctx.arc(106, 51, 6.5, 0.3, 2.6);
        ctx.stroke();
        ctx.beginPath();
        ctx.arc(106, 51, 6.5, 3.4, 5.8);
        ctx.stroke();

        // bolt badge
        ctx.strokeStyle = "#9c27b0";
        ctx.lineWidth = 1.5;
        ctx.beginPath();
        ctx.arc(1667, 514, 12.5, 0, Math.PI * 2);
        ctx.stroke();
        ctx.fillStyle = "#9c27b0";
        ctx.beginPath();
        ctx.moveTo(1669, 506);
        ctx.lineTo(1662, 516);
        ctx.lineTo(1666.5, 516);
        ctx.lineTo(1665, 522);
        ctx.lineTo(1672, 512);
        ctx.lineTo(1667.5, 512);
        ctx.closePath();
        ctx.fill();

        // flag badge
        ctx.save();
        ctx.beginPath();
        ctx.arc(1667, 545, 12, 0, Math.PI * 2);
        ctx.clip();
        ctx.fillStyle = "#ffffff";
        ctx.fillRect(1655, 533, 24, 24);
        ctx.fillStyle = "#f23645";
        [538, 543, 548, 553].forEach((y) => ctx.fillRect(1655, y, 24, 2.5));
        ctx.fillStyle = "#3d5ea8";
        ctx.fillRect(1655, 536, 12, 8);
        ctx.restore();
        ctx.strokeStyle = RED;
        ctx.lineWidth = 2;
        ctx.beginPath();
        ctx.arc(1667, 545, 13, 0, Math.PI * 2);
        ctx.stroke();

        // settings hexagon
        ctx.strokeStyle = "#131722";
        ctx.lineWidth = 1.3;
        ctx.beginPath();
        for (let k = 0; k < 6; k++) {
          const a = (k * Math.PI) / 3;
          const px = 1740 + 9 * Math.cos(a), py = 921 + 10 * Math.sin(a);
          if (k === 0) ctx.moveTo(px, py); else ctx.lineTo(px, py);
        }
        ctx.closePath();
        ctx.stroke();
        ctx.beginPath();
        ctx.arc(1740, 921, 2.5, 0, Math.PI * 2);
        ctx.stroke();

        // TradingView watermark
        ctx.fillStyle = "#131722";
        ctx.fillRect(14, 867, 16, 6);
        ctx.fillRect(22, 867, 8, 18);
        ctx.beginPath();
        ctx.arc(35, 870, 3, 0, Math.PI * 2);
        ctx.fill();
        ctx.beginPath();
        ctx.moveTo(44, 867);
        ctx.lineTo(55, 867);
        ctx.lineTo(45, 885);
        ctx.lineTo(34, 885);
        ctx.closePath();
        ctx.fill();

        // window edges
        ctx.fillStyle = "#2a2e39";
        ctx.fillRect(0, 0, W, 1.5);
        ctx.fillRect(0, 0, 1.5, chart.height);
        ctx.restore();
      },
    };

    const chart = new Chart(ref.current as HTMLCanvasElement, {
      type: "bar",
      data: { datasets: ds },
      plugins: [overlay],
      options: {
        responsive: false,
        devicePixelRatio: 1,
        animation: false,
        events: [],
        layout: { padding: { left: 2, right: 0, top: 0, bottom: 0 } },
        plugins: { legend: { display: false }, tooltip: { enabled: false }, title: { display: false } },
        scales: {
          x: {
            type: "linear", position: "bottom", min: X_MIN, max: X_MAX, offset: false,
            grid: { color: "#f0f3fa", drawTicks: false },
            border: { display: false },
            ticks: {
              autoSkip: false, maxRotation: 0, padding: 13, color: "#131722",
              font: (c: any) => ({ family: FONT, size: 14, weight: yearTicks.includes(c.tick?.value) ? "bold" : "normal" }),
              callback: (v: any) => monthLabels[monthTicks.indexOf(Number(v))] ?? "",
            },
            afterBuildTicks: (s: any) => { s.ticks = monthTicks.map((value) => ({ value })); },
            afterFit: (s: any) => { s.height = 35; s.paddingLeft = 0; s.paddingRight = 0; },
          },
          price: {
            ...rightAxis(561, 1, 21.87, 168.2, priceTicks),
            type: "logarithmic",
            ticks: {
              padding: 11, autoSkip: false, color: "#131722", labelOffset: -1.5,
              font: { family: FONT, size: 14 }, callback: (v: any) => deNum(Number(v) * 1000),
            },
          },
          macd: rightAxis(63, 2, -59, 130, [0]),
          momentum: rightAxis(70, 3, -2.82, 0.36, [0, -2]),
          dna: rightAxis(89, 4, -4.95, 5.71, [5, 0]),
          status: rightAxis(117, 5, 5.84, 15.71, [12, 8]),
        },
      } as any,
    } as any);
    return () => chart.destroy();
  }, []);

  return (
    <div style={{ position: "fixed", left: 0, top: 0, width: 1785, height: 935, background: "#fff", overflow: "hidden" }}>
      <canvas ref={ref} width={1785} height={935} style={{ display: "block" }} />
    </div>
  );
}

export default App;
